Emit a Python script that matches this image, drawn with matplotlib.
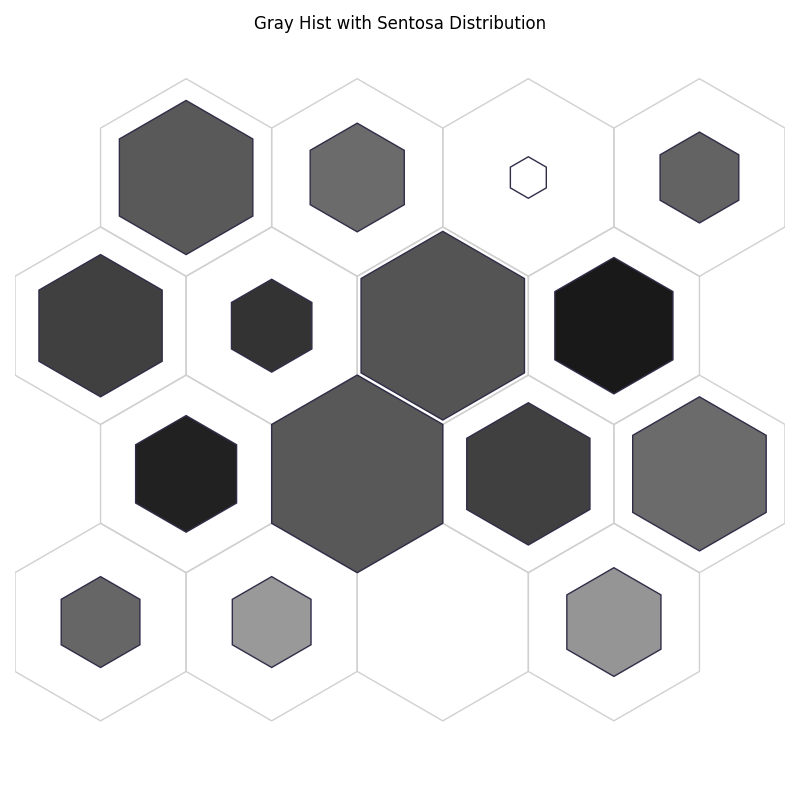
import numpy as np
import matplotlib
matplotlib.use('Agg')
import matplotlib.pyplot as plt
from matplotlib.patches import RegularPolygon

# hex grid cells: column position (in hex widths) and row index from bottom
hex_x = [1, 2, 3, 4, 0.5, 1.5, 2.5, 3.5, 1, 2, 3, 4, 0.5, 1.5, 2.5, 3.5]
hex_row = [3, 3, 3, 3, 2, 2, 2, 2, 1, 1, 1, 1, 0, 0, 0, 0]
# relative size of the inner hexagon (0 = empty cell)
hex_size = [0.78, 0.55, 0.21, 0.46,
            0.72, 0.47, 0.955, 0.69,
            0.59, 1.00, 0.72, 0.78,
            0.46, 0.46, 0.00, 0.55]
# gray level of the fill (0 = black, 1 = white)
hex_shade = [0.35, 0.42, 1.00, 0.39,
             0.25, 0.20, 0.33, 0.10,
             0.13, 0.345, 0.25, 0.42,
             0.40, 0.60, np.nan, 0.585]

r = 1 / np.sqrt(3)
dy = 1.5 * r

fig = plt.figure(figsize=(8, 8), dpi=100)
ax = fig.add_axes([15 / 800, 0.0, 770 / 800, 752 / 800])
ax.set_xlim(0, 4.5)
ax.set_ylim(-1.04, 3.355)
ax.axis('off')

for x, row in zip(hex_x, hex_row):
    ax.add_patch(RegularPolygon((x, row * dy), 6, radius=r,
                                facecolor='none', edgecolor='#d0d0d0',
                                lw=1, zorder=1))

cmap = plt.get_cmap('gray')
for x, row, s, g in zip(hex_x, hex_row, hex_size, hex_shade):
    if s <= 0:
        continue
    ax.add_patch(RegularPolygon((x, row * dy), 6, radius=r * s,
                                facecolor=cmap(g), edgecolor='#2f2d48',
                                lw=1, zorder=2))

fig.text(0.5, 1 - 24 / 800, 'Gray Hist with Sentosa Distribution',
         ha='center', va='center', fontsize=12)

fig.savefig('out.png', dpi=100)
